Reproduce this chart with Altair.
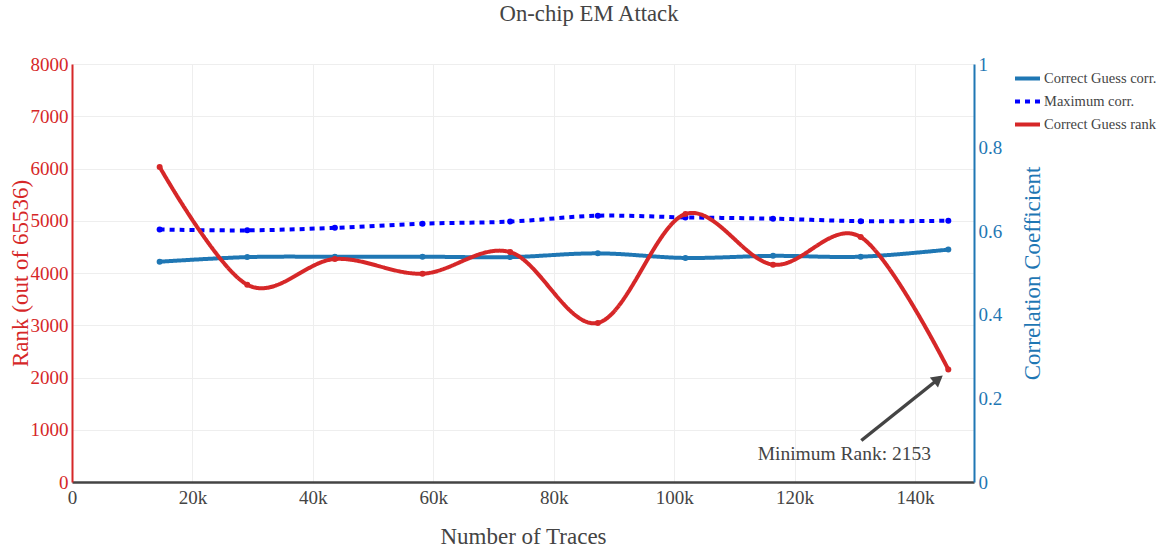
import altair as alt
import pandas as pd

# Number of traces at each evaluation step
traces = [14554, 29107, 43661, 58214, 72768, 87322, 101875, 116429, 130982, 145536]
# Rank of the correct key guess (out of 65536)
rank = [6030, 3776, 4268, 3987, 4400, 3045, 5128, 4160, 4688, 2153]
# Correlation of the correct guess and the maximum correlation over all guesses
corr_correct = [0.527, 0.538, 0.539, 0.539, 0.538, 0.547, 0.536, 0.541, 0.539, 0.556]
corr_max = [0.604, 0.602, 0.608, 0.618, 0.623, 0.637, 0.633, 0.630, 0.624, 0.625]

series_names = ["Correct Guess corr.", "Maximum corr.", "Correct Guess rank"]
series_colors = ["#1f77b4", "#0000ff", "#d62728"]
series_dash = [[1, 0], [5, 5], [1, 0]]

x_ticks = [0, 20000, 40000, 60000, 80000, 100000, 120000, 140000]
rank_ticks = [0, 1000, 2000, 3000, 4000, 5000, 6000, 7000, 8000]
corr_ticks = [0, 0.2, 0.4, 0.6, 0.8, 1]

FONT = "Liberation Serif"
INK = "#444444"
W, H = 902, 418

rank_df = pd.DataFrame({"traces": traces, "rank": rank, "series": series_names[2]})
corr_df = pd.concat([
    pd.DataFrame({"traces": traces, "corr": corr_correct, "series": series_names[0]}),
    pd.DataFrame({"traces": traces, "corr": corr_max, "series": series_names[1]}),
])

x_enc = alt.X(
    "traces:Q",
    scale=alt.Scale(domain=[0, 149800], nice=False, zero=False),
    axis=alt.Axis(
        values=x_ticks,
        labelExpr="datum.value == 0 ? '0' : (datum.value / 1000) + 'k'",
        labelFlush=False,
        title="Number of Traces",
        grid=True, gridColor="#eeeeee", ticks=False,
        domainColor=INK, domainWidth=2.5, labelPadding=6,
        labelColor=INK, titleColor=INK,
        titleX=W / 2, titleY=54, titleBaseline="middle", titleAlign="center",
    ),
)

color_enc = alt.Color(
    "series:N",
    scale=alt.Scale(domain=series_names, range=series_colors),
    legend=alt.Legend(title=None),
)
dash_enc = alt.StrokeDash(
    "series:N",
    scale=alt.Scale(domain=series_names, range=series_dash),
    legend=alt.Legend(title=None),
)

y_rank = alt.Y(
    "rank:Q",
    scale=alt.Scale(domain=[0, 8000], nice=False),
    axis=alt.Axis(
        orient="left", values=rank_ticks, format="d", title="Rank (out of 65536)",
        grid=True, gridColor="#eeeeee", ticks=False,
        domainColor="#d62728", domainWidth=2, labelPadding=4,
        labelColor="#d62728", titleColor="#d62728",
        titleAngle=270, titleX=-52, titleY=H / 2,
        titleBaseline="middle", titleAlign="center",
    ),
)

y_corr = alt.Y(
    "corr:Q",
    scale=alt.Scale(domain=[0, 1], nice=False),
    axis=alt.Axis(
        orient="right", values=corr_ticks, format="~g", title="Correlation Coefficient",
        grid=False, ticks=False,
        domainColor="#1f77b4", domainWidth=2, labelPadding=4,
        labelColor="#1f77b4", titleColor="#1f77b4",
        titleAngle=270, titleX=58, titleY=H / 2,
        titleBaseline="middle", titleAlign="center",
    ),
)

# Correlation traces (right axis)
corr_base = alt.Chart(corr_df)
corr_lines = corr_base.mark_line(strokeWidth=4, interpolate="cardinal", strokeCap="butt").encode(
    x=x_enc, y=y_corr, color=color_enc, strokeDash=dash_enc
)
corr_points = corr_base.mark_circle(size=36, opacity=1).encode(
    x=x_enc, y=y_corr, color=color_enc
)
corr_layer = alt.layer(corr_lines, corr_points)

# Rank trace (left axis) with the minimum-rank annotation
rank_base = alt.Chart(rank_df)
rank_line = rank_base.mark_line(strokeWidth=4, interpolate="cardinal").encode(
    x=x_enc, y=y_rank, color=color_enc, strokeDash=dash_enc
)
rank_points = rank_base.mark_circle(size=36, opacity=1).encode(
    x=x_enc, y=y_rank, color=color_enc
)

min_base = rank_base.transform_joinaggregate(
    min_rank="min(rank)"
).transform_filter(
    "datum.rank == datum.min_rank"
).transform_calculate(
    label='"Minimum Rank: " + datum.rank'
)

arrow_shaft = min_base.mark_rule(
    color=INK, strokeWidth=3.5,
    xOffset=-87, yOffset=71, x2Offset=-8, y2Offset=8,
).encode(x=x_enc, y=y_rank, x2=alt.X2("traces"), y2=alt.Y2("rank"))

arrow_head = min_base.mark_point(
    shape="triangle-up", filled=True, color=INK, opacity=1,
    size=170, angle=51.5, xOffset=-10, yOffset=9.5,
).encode(x=x_enc, y=y_rank)

arrow_text = min_base.mark_text(
    font=FONT, fontSize=19.5, color=INK, align="center", baseline="middle",
    dx=-104, dy=84,
).encode(x=x_enc, y=y_rank, text="label:N")

rank_layer = alt.layer(rank_line, rank_points, arrow_shaft, arrow_head, arrow_text)

chart = alt.layer(corr_layer, rank_layer).resolve_scale(
    y="independent"
).properties(
    width=W,
    height=H,
    autosize=alt.AutoSizeParams(type="none"),
    padding={"left": 72, "top": 64, "right": 1163 - 72 - W, "bottom": 549 - 64 - H},
    title=alt.TitleParams(
        "On-chip EM Attack", font=FONT, fontSize=22.7, fontWeight="normal",
        color=INK, anchor="middle", dx=66, offset=11, baseline="alphabetic",
    ),
).configure_view(
    stroke=None
).configure_axis(
    labelFont=FONT, titleFont=FONT, labelFontSize=19, titleFontSize=23,
    titleFontWeight="normal",
).configure_legend(
    orient="none", legendX=941, legendY=0, padding=0,
    symbolType="stroke", symbolSize=625, symbolStrokeWidth=4,
    labelFont=FONT, labelFontSize=14.5, labelColor=INK, labelOffset=2,
    rowPadding=-4,
)

chart.save("out.html", embed_options={"renderer": "svg", "actions": False})
